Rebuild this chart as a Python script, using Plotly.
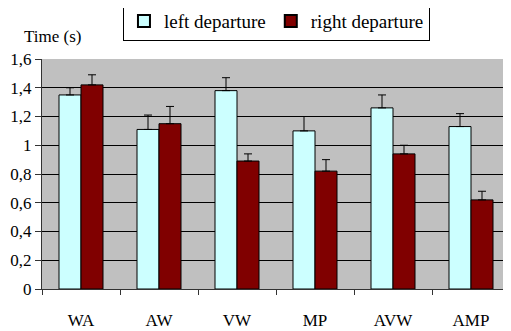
import plotly.graph_objects as go

categories = ["WA", "AW", "VW", "MP", "AVW", "AMP"]
left_vals = [1.35, 1.11, 1.38, 1.10, 1.26, 1.13]
left_err = [0.05, 0.10, 0.09, 0.10, 0.09, 0.09]
right_vals = [1.42, 1.15, 0.89, 0.82, 0.94, 0.62]
right_err = [0.07, 0.12, 0.05, 0.08, 0.06, 0.06]
y_ticks = [0, 0.2, 0.4, 0.6, 0.8, 1.0, 1.2, 1.4, 1.6]
y_labels = ["0", "0,2", "0,4", "0,6", "0,8", "1", "1,2", "1,4", "1,6"]

font = "Liberation Serif"

fig = go.Figure()
fig.add_trace(go.Bar(
    x=categories, y=left_vals, name="left departure",
    marker=dict(color="#CCFFFF", line=dict(color="black", width=1)),
    error_y=dict(type="data", array=left_err, arrayminus=[0]*6, symmetric=False,
                 color="black", thickness=1, width=4),
))
fig.add_trace(go.Bar(
    x=categories, y=right_vals, name="right departure",
    marker=dict(color="#800000", line=dict(color="black", width=1)),
    error_y=dict(type="data", array=right_err, arrayminus=[0]*6, symmetric=False,
                 color="black", thickness=1, width=4),
))

# page body has an 8px margin, so the figure is sized to fit the window
fig.update_layout(
    width=503, height=323,
    margin=dict(l=34, r=1, t=51, b=42, autoexpand=False),
    paper_bgcolor="white", plot_bgcolor="#C0C0C0",
    barmode="group", bargap=0.436, bargroupgap=0,
    font=dict(family=font, size=17, color="black"),
    showlegend=True,
    legend=dict(orientation="h", x=0.501, xanchor="center", y=1.165, yanchor="middle",
                bordercolor="black", borderwidth=1, bgcolor="white",
                font=dict(family=font, size=19), itemsizing="constant"),
    annotations=[dict(text="Time (s)", x=-0.043, y=1.096, xref="paper", yref="paper",
                      xanchor="left", yanchor="middle",
                      showarrow=False, font=dict(family=font, size=17))],
)

fig.update_xaxes(showgrid=False, showline=True, linecolor="#333333", linewidth=1,
                 ticks="outside", tickson="boundaries", ticklen=5, tickcolor="#333333",
                 tickfont=dict(family=font, size=17), ticklabelstandoff=16)
fig.update_yaxes(range=[0, 1.6], tickvals=y_ticks, ticktext=y_labels,
                 showgrid=True, gridcolor="black", gridwidth=1,
                 showline=True, linecolor="#333333", linewidth=1,
                 ticks="outside", ticklen=6, tickcolor="#333333",
                 tickfont=dict(family=font, size=17), zeroline=False)

fig.write_html("out.html")
